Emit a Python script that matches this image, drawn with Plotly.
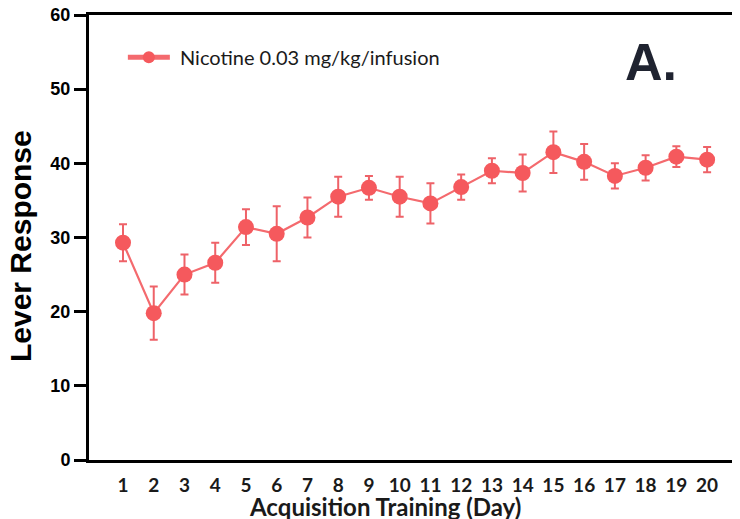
import plotly.graph_objects as go

# 数据：每天的平均压杆次数与误差
days = list(range(1, 21))
lever_mean = [29.3, 19.8, 25.0, 26.6, 31.4, 30.5, 32.7, 35.5, 36.7, 35.5,
              34.6, 36.8, 39.0, 38.7, 41.5, 40.2, 38.3, 39.4, 40.9, 40.5]
lever_sem = [2.5, 3.6, 2.7, 2.7, 2.4, 3.7, 2.7, 2.7, 1.6, 2.7,
             2.7, 1.7, 1.7, 2.5, 2.8, 2.4, 1.7, 1.7, 1.4, 1.7]
series_name = "Nicotine 0.03 mg/kg/infusion"
y_ticks = [0, 10, 20, 30, 40, 50, 60]

RED = '#F5595D'

fig = go.Figure()
fig.add_trace(go.Scatter(
    x=days, y=lever_mean,
    mode='lines+markers',
    name='\u00a0' + series_name,  # 图例文字与线段之间多留一点空隙
    line=dict(color='#F46A6E', width=2.2),
    marker=dict(color=RED, size=16),
    error_y=dict(type='data', array=lever_sem, visible=True,
                 color='#EE6268', thickness=2, width=4),
))

# 面板标记
fig.add_annotation(
    text="A.", xref='paper', yref='paper', x=0.863, y=0.894,
    xanchor='center', yanchor='middle', showarrow=False,
    font=dict(family='Liberation Sans', size=52, color='#1f2330', weight='bold'),
)
# 坐标轴标题（用注释放置，以便精确定位）
fig.add_annotation(
    text="Acquisition Training (Day)", xref='paper', yref='paper',
    x=0.4547, y=-0.104,
    xanchor='center', yanchor='middle', showarrow=False,
    font=dict(family='Lato', size=24, color='#1a1a1a', weight='bold'),
)
fig.add_annotation(
    text="Lever Response", xref='paper', yref='paper',
    x=-0.105, y=0.48, textangle=-90,
    xanchor='center', yanchor='middle', showarrow=False,
    font=dict(family='Liberation Sans', size=30, color='black', weight='bold'),
)

# 页面自带 8px 边距，整体尺寸相应缩小
fig.update_layout(
    width=732, height=511,
    margin=dict(l=81, r=0, t=7, b=59),
    plot_bgcolor='white', paper_bgcolor='white',
    showlegend=True,
    legend=dict(x=0.052, y=0.905, xanchor='left', yanchor='middle',
                bgcolor='rgba(0,0,0,0)', itemwidth=42, itemsizing='constant',
                font=dict(family='Lato', size=20, color='#1a1a1a')),
    xaxis=dict(range=[-0.106, 21.07], tickmode='array', tickvals=days,
               ticks='', showgrid=False, zeroline=False, automargin=False,
               showline=True, linecolor='black', linewidth=3, mirror=True,
               ticklabelstandoff=6,
               tickfont=dict(family='Lato', size=19, color='#1a1a1a', weight='bold')),
    yaxis=dict(range=[0, 60], tickmode='array', tickvals=y_ticks,
               ticks='outside', ticklen=12, tickwidth=3, tickcolor='black',
               showgrid=False, zeroline=False, automargin=False,
               ticklabeloverflow='allow',
               showline=True, linecolor='black', linewidth=3,
               tickfont=dict(family='Liberation Sans', size=18, color='black', weight='bold')),
)

fig.write_html("out.html")
